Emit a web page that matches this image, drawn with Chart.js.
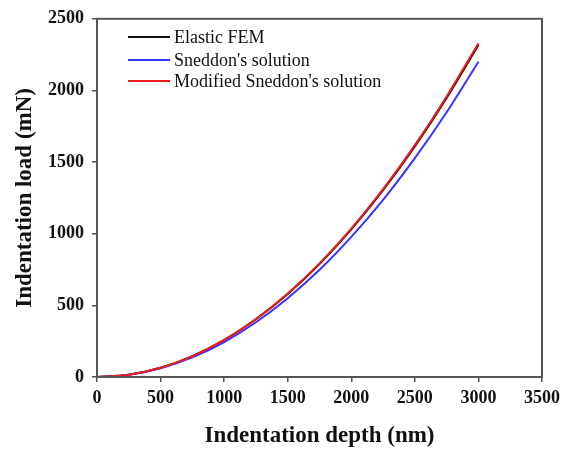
<!DOCTYPE html>
<html>
<head>
<meta charset="utf-8">
<script src="https://cdn.jsdelivr.net/npm/chart.js@4.4.1/dist/chart.umd.min.js"></script>
<style>
  html, body { margin: 0; padding: 0; background: #fff; }
  #wrap { width: 566px; height: 451px; }
</style>
</head>
<body>
<div id="wrap"><canvas id="chart" width="566" height="451"></canvas></div>
<script>
// ============================
// data
// ============================

const depth = [0, 250, 500, 750, 1000, 1250, 1500, 1750, 2000, 2250, 2500, 2750, 3000];

const femLoad      = [0, 16, 64, 145, 258, 403, 580, 789, 1030, 1304, 1610, 1948, 2318];
const sneddonLoad  = [0, 15, 61, 137, 244, 382, 550, 748, 978, 1237, 1528, 1848, 2200];
const modifiedLoad = [0, 16, 65, 146, 259, 405, 583, 793, 1036, 1311, 1618, 1958, 2330];

const xTicks = [0, 500, 1000, 1500, 2000, 2500, 3000, 3500];
const yTicks = [0, 500, 1000, 1500, 2000, 2500];

const seriesNames = ["Elastic FEM", "Sneddon's solution", "Modified Sneddon's solution"];

const FRAME = "#555";
const SERIF = "'Liberation Serif', 'DejaVu Serif', serif";

function pts(ys) {
  return depth.map((x, i) => ({ x: x, y: ys[i] }));
}

// frame on top and right, plus the legend inside the plot
const framePlugin = {
  id: "frame",
  afterDraw(chart) {
    const ctx = chart.ctx;
    const a = chart.chartArea;
    ctx.save();
    ctx.strokeStyle = FRAME;
    ctx.lineWidth = 2;
    ctx.strokeRect(a.left, a.top, a.right - a.left, a.bottom - a.top);

    // legend
    ctx.font = "18px " + SERIF;
    ctx.textBaseline = "middle";
    ctx.fillStyle = "#111";
    const rows = [37, 60, 81];
    chart.data.datasets.forEach((ds, i) => {
      const y = rows[i];
      ctx.strokeStyle = ds.borderColor;
      ctx.lineWidth = 2;
      ctx.beginPath();
      ctx.moveTo(128, y);
      ctx.lineTo(170, y);
      ctx.stroke();
      ctx.fillText(ds.label, 174, y + 1);
    });
    ctx.restore();
  }
};

new Chart(document.getElementById("chart"), {
  type: "line",
  data: {
    datasets: [
      { label: seriesNames[0], data: pts(femLoad), borderColor: "#111", order: 2 },
      { label: seriesNames[1], data: pts(sneddonLoad), borderColor: "#3535ff", order: 1 },
      { label: seriesNames[2], data: pts(modifiedLoad), borderColor: "#ee1c1c", order: 0 }
    ]
  },
  options: {
    responsive: false,
    animation: false,
    layout: { padding: { left: 0, top: 15, right: 22, bottom: 0 } },
    elements: {
      point: { radius: 0 },
      line: { borderWidth: 2, tension: 0.4, cubicInterpolationMode: "monotone" }
    },
    plugins: {
      legend: { display: false },
      tooltip: { enabled: false }
    },
    scales: {
      x: {
        type: "linear",
        min: 0,
        max: 3500,
        afterBuildTicks(s) { s.ticks = xTicks.map(v => ({ value: v })); },
        afterFit(s) { s.height = 74; },
        border: { color: FRAME, width: 2 },
        grid: { drawOnChartArea: false, drawTicks: true, tickLength: 5, color: FRAME, lineWidth: 1.5 },
        ticks: {
          color: "#111",
          padding: 6,
          maxRotation: 0,
          callback: v => String(v),
          font: { family: SERIF, size: 18, weight: "bold" }
        },
        title: {
          display: true,
          text: "Indentation depth (nm)",
          color: "#111",
          padding: { top: 1, bottom: 1 },
          font: { family: SERIF, size: 23, weight: "bold" }
        }
      },
      y: {
        min: 0,
        max: 2500,
        afterBuildTicks(s) { s.ticks = yTicks.map(v => ({ value: v })); },
        afterFit(s) { s.width = 97; },
        border: { color: FRAME, width: 2 },
        grid: { drawOnChartArea: false, drawTicks: true, tickLength: 5, color: FRAME, lineWidth: 1.5 },
        ticks: {
          color: "#111",
          padding: 8,
          callback: v => String(v),
          font: { family: SERIF, size: 18, weight: "bold" }
        },
        title: {
          display: true,
          text: "Indentation load (mN)",
          color: "#111",
          padding: { top: 11, bottom: 11 },
          font: { family: SERIF, size: 23, weight: "bold" }
        }
      }
    }
  },
  plugins: [framePlugin]
});
</script>
</body>
</html>
